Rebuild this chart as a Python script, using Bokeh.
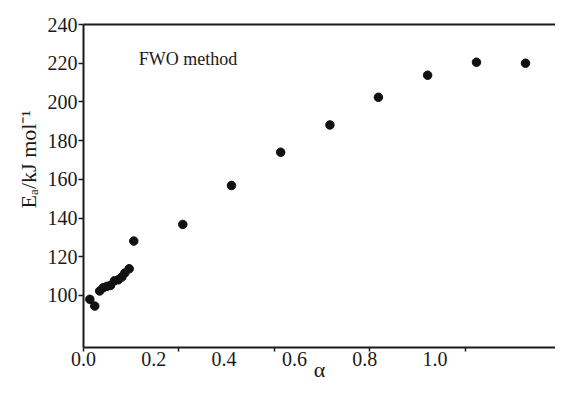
from bokeh.plotting import figure
from bokeh.models import (FixedTicker, LinearAxis, Label, Range1d, ColumnDataSource,
                          PrintfTickFormatter, Title)
from bokeh.embed import file_html
from bokeh.resources import INLINE

# ---- data ----
alpha = [0.018, 0.032, 0.046, 0.056, 0.067, 0.077, 0.088, 0.099, 0.109, 0.1175,
         0.130, 0.143, 0.2825, 0.421, 0.561, 0.701, 0.839, 0.979, 1.118, 1.2575]
Ea = [98.0, 94.5, 102.3, 104.0, 104.7, 105.2, 107.6, 108.1, 109.5, 111.6,
      113.8, 128.1, 136.7, 156.8, 174.0, 188.1, 202.4, 213.8, 220.5, 220.0]

x_label_ticks = [0.0, 0.2, 0.4, 0.6, 0.8, 1.0]
x_mark_ticks = [0.0, 0.2716, 0.5432, 0.8148, 1.0864]
y_ticks = [100, 120, 140, 160, 180, 200, 220, 240]

FONT = "Liberation Serif"
INK = "#1a1a1a"

p = figure(width=555, height=386, x_range=Range1d(0, 1.3428), y_range=Range1d(73.1, 240),
           output_backend="svg", toolbar_location=None,
           min_border_left=83, min_border_right=0, min_border_top=24, min_border_bottom=39)
p.grid.visible = False
p.outline_line_color = None
p.background_fill_color = "white"
p.border_fill_color = "white"

src = ColumnDataSource(dict(x=alpha, y=Ea))
p.scatter("x", "y", source=src, size=8.5, color="#111111")

# x axis
xa = p.xaxis[0]
xa.ticker = FixedTicker(ticks=x_label_ticks, minor_ticks=x_mark_ticks)
xa.formatter = PrintfTickFormatter(format="%.1f")
xa.major_tick_out = 0
xa.major_tick_in = 0
xa.minor_tick_out = 4
xa.minor_tick_in = 0
xa.minor_tick_line_width = 1.5
xa.minor_tick_line_color = INK
xa.axis_line_width = 2
xa.axis_line_color = INK
xa.major_label_text_font = FONT
xa.major_label_text_font_size = "20px"
xa.major_label_text_color = INK
xa.major_label_standoff = 0
xa.axis_label = "α"
xa.axis_label_text_font = FONT
xa.axis_label_text_font_size = "22px"
xa.axis_label_text_font_style = "normal"
xa.axis_label_text_color = INK
xa.axis_label_standoff = -12

# y axis
ya = p.yaxis[0]
ya.ticker = FixedTicker(ticks=y_ticks, minor_ticks=[])
ya.major_tick_out = 5
ya.major_tick_in = 0
ya.major_tick_line_width = 1.5
ya.major_tick_line_color = INK
ya.axis_line_width = 2
ya.axis_line_color = INK
ya.major_label_text_font = FONT
ya.major_label_text_font_size = "20px"
ya.major_label_text_color = INK
ya.major_label_standoff = 1

# top frame line
top = LinearAxis(ticker=FixedTicker(ticks=[]), major_label_text_font_size="0px",
                 major_tick_out=0, minor_tick_out=0, axis_line_width=2, axis_line_color=INK)
p.add_layout(top, "above")

# y axis title as a side-panel title (vertical), starting where the reference's does
ytitle = Title(text="Eₐ/kJ mol⁻¹", align="left", offset=139, standoff=8,
               text_font=FONT, text_font_size="22px", text_font_style="normal",
               text_color=INK)
p.add_layout(ytitle, "left")

# annotation
p.add_layout(Label(x=0.157, y=222.4, text="FWO method", text_font=FONT,
                   text_font_size="18px", text_color=INK,
                   text_align="left", text_baseline="alphabetic"))

open("out.html", "w").write(file_html(p, INLINE))
